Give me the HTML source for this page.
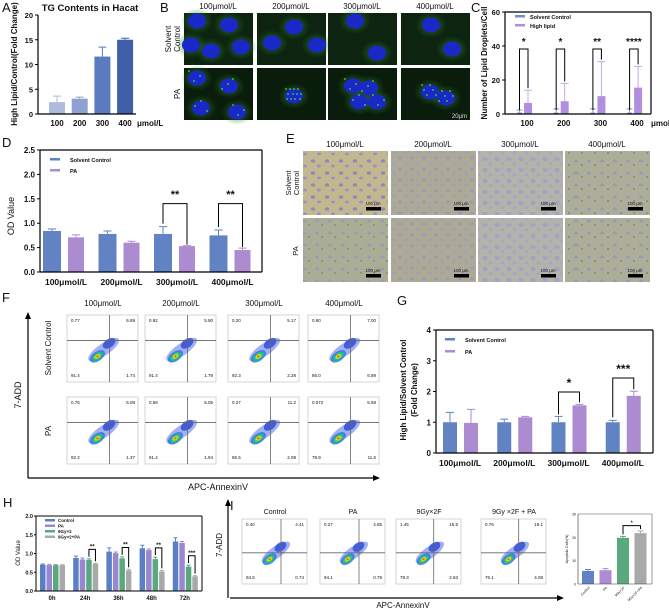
<!DOCTYPE html>
<html><head><meta charset="utf-8"><style>
html,body{margin:0;padding:0;background:#fff;}
svg{display:block;font-family:"Liberation Sans",Arial,sans-serif;}
</style></head><body>
<svg id="fig" width="669" height="610" viewBox="0 0 669 610" xmlns="http://www.w3.org/2000/svg">
<defs>
<pattern id="cellsA" width="14" height="12" patternUnits="userSpaceOnUse"><rect width="14" height="12" fill="#c3b78f"/><ellipse cx="5" cy="5" rx="2.2" ry="1.6" fill="#8d88bf"/><ellipse cx="11" cy="10" rx="2" ry="1.5" fill="#9893c0"/></pattern>
<pattern id="cellsB" width="12" height="11" patternUnits="userSpaceOnUse"><rect width="12" height="11" fill="#aca997"/><ellipse cx="4" cy="4" rx="2" ry="1.4" fill="#9c99b8"/><ellipse cx="10" cy="9" rx="1.8" ry="1.3" fill="#a29fb8"/></pattern>
<pattern id="cellsC" width="12" height="11" patternUnits="userSpaceOnUse"><rect width="12" height="11" fill="#b3b2ab"/><ellipse cx="5" cy="5" rx="2.6" ry="2" fill="#a4a2c4"/><ellipse cx="11" cy="10" rx="2.4" ry="1.8" fill="#a8a6c4"/></pattern>
<pattern id="cellsD" width="13" height="12" patternUnits="userSpaceOnUse"><rect width="13" height="12" fill="#acae9a"/><ellipse cx="4" cy="5" rx="2" ry="1.4" fill="#9a98b6"/><circle cx="10" cy="9" r="0.8" fill="#6a6a60"/></pattern>
<pattern id="cellsE" width="13" height="12" patternUnits="userSpaceOnUse"><rect width="13" height="12" fill="#a9ad95"/><ellipse cx="5" cy="5" rx="2" ry="1.4" fill="#9c9ab8"/><circle cx="10" cy="9" r="0.7" fill="#707068"/></pattern>
<radialGradient id="blob"><stop offset="0" stop-color="#e02020"/><stop offset="0.25" stop-color="#f0e020"/><stop offset="0.5" stop-color="#30c060"/><stop offset="0.75" stop-color="#20a0e0"/><stop offset="1" stop-color="#2040e0" stop-opacity="0.6"/></radialGradient>
<radialGradient id="glow"><stop offset="0" stop-color="#2a7a2a" stop-opacity="0.8"/><stop offset="1" stop-color="#2a7a2a" stop-opacity="0"/></radialGradient>
</defs>
</svg>
<script>
const NS='http://www.w3.org/2000/svg';
const root=document.getElementById('fig');
function el(tag,a,parent){const e=document.createElementNS(NS,tag);for(const k in a)e.setAttribute(k,a[k]);(parent||root).appendChild(e);return e;}
function txt(x,y,s,a,name){
  const t=el('text',Object.assign({x:x,y:y,'font-size':9,fill:'#111'},a||{}));
  t.textContent=s;
  
  
  return t;
}
function ln(x1,y1,x2,y2,w,c,name){
  const l=el('line',{x1:x1,y1:y1,x2:x2,y2:y2,stroke:c||'#000','stroke-width':w||1});
  
  
  return l;
}
function rect(x,y,w,h,fill,name){
  const r=el('rect',{x:x,y:y,width:w,height:h,fill:fill});
  
  
  return r;
}
function errbar(cx,yTop,yErr,w,c,name){
  const p=el('path',{d:`M${cx},${yTop}V${yErr}M${cx-w},${yErr}H${cx+w}`,stroke:c,'stroke-width':1,fill:'none'});
  
  
}
function bracket(x1,y1,x2,y2,top,stars,sy,fs,name){
  const p=el('path',{d:`M${x1},${y1}V${top}H${x2}V${y2}`,stroke:'#000','stroke-width':1,fill:'none'});
  
  
  txt((x1+x2)/2,sy,stars,{'text-anchor':'middle','font-size':fs,'font-weight':'bold'},name+'-stars');
}
function plabel(x,y,s){txt(x,y,s,{'font-size':13},'panel-label-'+s.toLowerCase());}

/* ===== DATA ===== */
const aCats=['100','200','300','400'];
const aVals=[2.4,3.1,11.6,15.0];
const aErr=[1.2,0.3,1.9,0.3];
const aTicks=[0,5,10,15,20];
const cCats=['100','200','300','400'];
const cCtrl=[0.8,0.8,0.8,0.8];
const cCtrlErr=[1.5,2.2,2.2,2.2];
const cPA=[6.5,7.5,10.5,15.5];
const cPAErr=[7.5,10.5,20.3,12.5];
const cTicks=[0,20,40,60];
const cSig=['*','*','**','****'];
const dCats=['100μmol/L','200μmol/L','300μmol/L','400μmol/L'];
const dCtrl=[0.84,0.78,0.78,0.75];
const dCtrlErr=[0.04,0.06,0.15,0.11];
const dPA=[0.71,0.60,0.53,0.45];
const dPAErr=[0.05,0.03,0.01,0.04];
const dTicks=[0,0.5,1,1.5,2,2.5];
const gCats=['100μmol/L','200μmol/L','300μmol/L','400μmol/L'];
const gCtrl=[1,1,1,1];
const gCtrlErr=[0.32,0.1,0.19,0.06];
const gPA=[0.98,1.16,1.55,1.86];
const gPAErr=[0.44,0.03,0.03,0.15];
const gTicks=[0,1,2,3,4];
const hCats=['0h','24h','36h','48h','72h'];
const hSeries=['Control','PA','9Gy×2','9Gy×2+PA'];
const hCtrl=[0.70,0.88,1.05,1.14,1.32];
const hPA=[0.69,0.84,1.01,1.09,1.28];
const hGy=[0.69,0.83,0.87,0.85,0.65];
const hGyPA=[0.69,0.72,0.55,0.52,0.39];
const hErr=[[0.02,0.05,0.1,0.08,0.1],[0.02,0.04,0.03,0.03,0.04],[0.01,0.03,0.04,0.05,0.04],[0.01,0.02,0.03,0.03,0.02]];
const hSig=['','**','**','**','***'];
const hTicks=[0,0.5,1,1.5,2];
const iCats=['Control','PA','9Gy×2F','9Gy×2F+PA'];
const iVals=[5.6,5.9,19.8,21.8];
const iErr=[0.6,0.7,0.6,0.9];
const iTicks=[0,10,20,30];
const fQuad=[[['0.77','6.89','91.4','1.74'],['0.92','5.90','91.4','1.79'],['0.20','5.17','92.3','2.28'],['0.90','7.00','86.0','6.89']],
             [['0.76','5.08','92.2','1.37'],['0.58','5.05','91.4','1.94'],['0.27','11.2','86.5','2.08'],['0.072','5.58','79.9','11.6']]];
const iQuad=[['0.40','4.41','94.5','0.74'],['0.27','4.85','94.1','0.79'],['1.45','16.5','79.3','2.63'],['0.76','19.1','76.1','4.08']];

const blue='#6182c3', purple='#ad8bd1';

/* ===== PANEL A ===== */
plabel(2,12,'A');
const yA=v=>114-v*99/20;
txt(90,11,'TG Contents in Hacat',{'font-size':9.5,'font-weight':'bold','text-anchor':'middle'},'chart-a-title');
const aCol=['#aebbdc','#8ea2d2','#5a7bc0','#3f5fa8'];
aVals.forEach((v,i)=>{
  const x=49+i*22.7;
  errbar(x+8,yA(v),yA(v+aErr[i]),4,aCol[i],'a-error-'+aCats[i]);
  rect(x,yA(v),16,114-yA(v),aCol[i],'a-bar-'+aCats[i]);
  txt(x+8,126,aCats[i],{'font-size':8,'font-weight':'bold','text-anchor':'middle'},'a-x-tick');
});
txt(137,126,'μmol/L',{'font-size':8,'font-weight':'bold'},'a-unit');
aTicks.forEach(t=>{ln(35,yA(t),38,yA(t),1,'#000','a-tick');txt(33,yA(t)+3,String(t),{'font-size':7.5,'font-weight':'bold','text-anchor':'end'},'a-y-tick');});
ln(38,15,38,114.5,1.2,'#000','a-y-axis');ln(38,114,136,114,1.2,'#000','a-x-axis');
txt(0,0,'High Lipid/Control(Fold Change)',{'font-size':8,'font-weight':'bold','text-anchor':'middle',transform:'translate(17,64) rotate(-90)'},'a-y-title');

/* ===== PANEL B ===== */
plabel(160,12,'B');
const bCols=[184,257,328,401], bRows=[13,68];
['100μmol/L','200μmol/L','300μmol/L','400μmol/L'].forEach((s,i)=>txt(bCols[i]+34,9,s,{'font-size':8,'text-anchor':'middle'},'b-col-header'));
txt(0,0,'Solvent',{'font-size':8,'text-anchor':'middle',transform:'translate(171,39) rotate(-90)'},'b-row-solvent');
txt(0,0,'Control',{'font-size':8,'text-anchor':'middle',transform:'translate(180,39) rotate(-90)'},'b-row-control');
txt(0,0,'PA',{'font-size':8,'text-anchor':'middle',transform:'translate(180,94) rotate(-90)'},'b-row-pa');
const nucB=[[[8,8],[40,12],[52,34],[22,38],[2,32]],[[32,14],[10,30],[55,32]],[[22,8],[44,40]],[[25,12],[46,36]]];
const nucB2=[[[8,10],[40,18],[12,40],[48,44]],[[32,28]],[[20,18],[36,20],[26,34],[44,34]],[[24,24],[40,30]]];
bRows.forEach((ry,r)=>bCols.forEach((cx,c)=>{
  rect(cx,ry,69,52,r===0?'#0d2410':'#0a1c0b','b-image');
  const ns=r===0?nucB[c]:nucB2[c];
  ns.forEach(n=>{const gl=el('ellipse',{cx:cx+n[0]+5,cy:ry+n[1],rx:16,ry:13,fill:'url(#glow)'});});
  ns.forEach(n=>{const e=el('ellipse',{cx:cx+n[0]+5,cy:ry+n[1],rx:9,ry:7.5,fill:'#1a28c8'});});
  if(r===1){for(let k=0;k<12;k++){const d=el('circle',{cx:cx+ns[k%ns.length][0]+5+((k*7)%17-8),cy:ry+ns[k%ns.length][1]+((k*5)%15-7),r:0.9,fill:'#40e040'});}}
}));
txt(467,118,'20μm',{'font-size':6,fill:'#ddd','text-anchor':'end'},'b-scale-label');

/* ===== PANEL C ===== */
plabel(471,12,'C');
const yC=v=>114-v*102/60;
ln(505,12,651,12,1.2,'#000','c-frame-top');ln(651,12,651,114,1.2,'#000','c-frame-right');
cPA.forEach((v,i)=>{
  const gc=523+i*36.7;
  errbar(gc-3.5,yC(cCtrl[i]),yC(cCtrl[i]+cCtrlErr[i]),3,'#7d9ad0','c-ctrl-error');
  rect(gc-6,yC(cCtrl[i]),5,114-yC(cCtrl[i]),'#6f8fcf','c-ctrl-bar-'+cCats[i]);
  errbar(gc+5,yC(v),yC(v+cPAErr[i]),4,'#c4a8e4','c-pa-error');
  rect(gc+1,yC(v),8,114-yC(v),'#b18ee0','c-pa-bar-'+cCats[i]);
  bracket(gc-3.5,110,gc+5,yC(v+cPAErr[i])-2>50?yC(v+cPAErr[i])-2:60,49,cSig[i],45,10,'c-sig-'+cCats[i]);
  txt(gc+4,126,cCats[i],{'font-size':8,'font-weight':'bold','text-anchor':'middle'},'c-x-tick');
});
txt(651,126,'μmol/L',{'font-size':8,'font-weight':'bold'},'c-unit');
cTicks.forEach(t=>{ln(502,yC(t),505,yC(t),1,'#000','c-tick');txt(500,yC(t)+3,String(t),{'font-size':7.5,'font-weight':'bold','text-anchor':'end'},'c-y-tick');});
ln(505,12,505,114.5,1.2,'#000','c-y-axis');ln(505,114,651,114,1.2,'#000','c-x-axis');
txt(0,0,'Number of Lipid Droplets/Cell',{'font-size':8,'font-weight':'bold','text-anchor':'middle',transform:'translate(487,63) rotate(-90)'},'c-y-title');
rect(515,15,10,2.5,'#6f8fcf','c-legend-ctrl-swatch');txt(530,19,'Solvent Control',{'font-size':5.5,'font-weight':'bold'},'c-legend-ctrl');
rect(515,24,10,2.5,'#b18ee0','c-legend-pa-swatch');txt(530,28,'High lipid',{'font-size':5.5,'font-weight':'bold'},'c-legend-pa');

/* ===== PANEL D ===== */
plabel(2,147,'D');
const yD=v=>272-v*48.8;
ln(40,150,262,150,1.2,'#000','d-frame-top');ln(262,150,262,272,1.2,'#000','d-frame-right');
dCtrl.forEach((v,i)=>{
  const x0=43+i*55.5;
  errbar(x0+9,yD(v),yD(v+dCtrlErr[i]),4,blue,'d-ctrl-error');
  rect(x0,yD(v),18,272-yD(v),blue,'d-ctrl-bar-'+i);
  const p=dPA[i];
  errbar(x0+33,yD(p),yD(p+dPAErr[i]),4,purple,'d-pa-error');
  rect(x0+25,yD(p),16,272-yD(p),purple,'d-pa-bar-'+i);
  txt(x0+23,285,dCats[i],{'font-size':8.5,'font-weight':'bold','text-anchor':'middle'},'d-x-tick');
  if(i>=2)bracket(x0+9,yD(v+dCtrlErr[i])-3,x0+33,yD(p+dPAErr[i])-1,yD(1.4),'**',yD(1.52),11,'d-sig-'+i);
});
dTicks.forEach(t=>{ln(37,yD(t),40,yD(t),1,'#000','d-tick');txt(35,yD(t)+3,t.toFixed(1),{'font-size':8,'font-weight':'bold','text-anchor':'end'},'d-y-tick');});
ln(40,150,40,272.5,1.2,'#000','d-y-axis');ln(40,272,262,272,1.2,'#000','d-x-axis');
txt(0,0,'OD Value',{'font-size':9,'text-anchor':'middle',transform:'translate(14,216) rotate(-90)'},'d-y-title');
rect(50,158,10,2.5,blue,'d-legend-ctrl-swatch');txt(70,162,'Solvent Control',{'font-size':5.5,'font-weight':'bold'},'d-legend-ctrl');
rect(50,169,10,2.5,purple,'d-legend-pa-swatch');txt(70,173,'PA',{'font-size':5.5,'font-weight':'bold'},'d-legend-pa');

/* ===== PANEL E ===== */
plabel(286,143,'E');
const eCols=[303,391,478,565], eRows=[151,218];
['100μmol/L','200μmol/L','300μmol/L','400μmol/L'].forEach((s,i)=>txt(eCols[i]+42,147,s,{'font-size':8,'text-anchor':'middle'},'e-col-header'));
txt(0,0,'Solvent',{'font-size':7.5,'text-anchor':'middle',transform:'translate(291,183) rotate(-90)'},'e-row-solvent');
txt(0,0,'Control',{'font-size':7.5,'text-anchor':'middle',transform:'translate(299,183) rotate(-90)'},'e-row-control');
txt(0,0,'PA',{'font-size':7.5,'text-anchor':'middle',transform:'translate(298,251) rotate(-90)'},'e-row-pa');
const ePat=[['cellsA','cellsB','cellsC','cellsD'],['cellsE','cellsB','cellsC','cellsD']];
eRows.forEach((ry,r)=>eCols.forEach((cx,c)=>{
  rect(cx,ry,85,64,'url(#'+ePat[r][c]+')','e-image');
  rect(cx+63,ry+56,15,3.5,'#000','e-scale-bar');
  txt(cx+70,ry+54,'100 μm',{'font-size':4.5,'text-anchor':'middle'},'e-scale-label');
}));

/* ===== FLOW helper ===== */
function flow(x,y,w,h,q,vx,hy,name){
  rect(x,y,w,h,'#fff','flow-plot-bg');
  const b=el('rect',{x:x,y:y,width:w,height:h,fill:'none',stroke:'#ccc','stroke-width':0.8});
  
  
  const g=el('g',{transform:`translate(${x+w*0.47},${y+h*0.55}) rotate(-35)`});
  
  
  el('ellipse',{cx:4,cy:0,rx:w*0.26,ry:h*0.09,fill:'#3050e0','fill-opacity':0.45},g);
  el('ellipse',{cx:w*0.17,cy:-2,rx:w*0.1,ry:h*0.065,fill:'#2040d8','fill-opacity':0.75},g);
  el('ellipse',{cx:-5,cy:2,rx:w*0.12,ry:h*0.07,fill:'url(#blob)'},g);
  ln(x+w*vx,y,x+w*vx,y+h,0.8,'#666',name+'-vline');
  ln(x,y+h*hy,x+w,y+h*hy,0.8,'#666',name+'-hline');
  const fs=4.5;
  txt(x+4,y+7,q[0],{'font-size':fs},name+'-q1');
  txt(x+w-3,y+7,q[1],{'font-size':fs,'text-anchor':'end'},name+'-q2');
  txt(x+4,y+h-5,q[2],{'font-size':fs},name+'-q3');
  txt(x+w-3,y+h-5,q[3],{'font-size':fs,'text-anchor':'end'},name+'-q4');
}

/* ===== PANEL F ===== */
plabel(2,302,'F');
const fCols=[67,145,228,308], fRows=[315,397];
['100μmol/L','200μmol/L','300μmol/L','400μmol/L'].forEach((s,i)=>txt(fCols[i]+36,306,s,{'font-size':8,'text-anchor':'middle'},'f-col-header'));
fRows.forEach((ry,r)=>fCols.forEach((cx,c)=>flow(cx,ry,71,67,fQuad[r][c],0.6,0.38,'f-flow-'+r+'-'+c)));
txt(0,0,'Solvent Control',{'font-size':8,'text-anchor':'middle',transform:'translate(51,348) rotate(-90)'},'f-row-solvent');
txt(0,0,'PA',{'font-size':8,'text-anchor':'middle',transform:'translate(51,431) rotate(-90)'},'f-row-pa');
ln(28,478,375,478,1.2,'#000','f-x-arrow');el('path',{d:'M380,478 l-7,-3 v6z',fill:'#000'});
ln(28,478,28,318,1.2,'#000','f-y-arrow');el('path',{d:'M28,312 l-3,7 h6z',fill:'#000'});
txt(218,490,'APC-AnnexinV',{'font-size':9,'text-anchor':'middle'},'f-x-title');
txt(0,0,'7-ADD',{'font-size':9,'text-anchor':'middle',transform:'translate(21,395) rotate(-90)'},'f-y-title');

/* ===== PANEL G ===== */
plabel(397,305,'G');
const yG=v=>453-v*30.75;
ln(436,330,653,330,1.2,'#000','g-frame-top');ln(653,330,653,453,1.2,'#000','g-frame-right');
gCtrl.forEach((v,i)=>{
  const x0=443+i*54.25;
  errbar(x0+7,yG(v),yG(v+gCtrlErr[i]),4,blue,'g-ctrl-error');
  rect(x0,yG(v),14,453-yG(v),blue,'g-ctrl-bar-'+i);
  const p=gPA[i];
  errbar(x0+28,yG(p),yG(p+gPAErr[i]),4,purple,'g-pa-error');
  rect(x0+21,yG(p),14,453-yG(p),purple,'g-pa-bar-'+i);
  txt(x0+17,466,gCats[i],{'font-size':8.5,'font-weight':'bold','text-anchor':'middle'},'g-x-tick');
});
bracket(443+2*54.25+7,yG(gCtrl[2]+gCtrlErr[2])-2,443+2*54.25+28,yG(gPA[2]+gPAErr[2])-2,392,'*',387,12,'g-sig-300');
bracket(443+3*54.25+7,yG(gCtrl[3]+gCtrlErr[3])-3,443+3*54.25+28,yG(gPA[3]+gPAErr[3])-2,378,'***',373,12,'g-sig-400');
gTicks.forEach(t=>{ln(433,yG(t),436,yG(t),1,'#000','g-tick');txt(431,yG(t)+3,String(t),{'font-size':8,'font-weight':'bold','text-anchor':'end'},'g-y-tick');});
ln(436,330,436,453.5,1.2,'#000','g-y-axis');ln(436,453,653,453,1.2,'#000','g-x-axis');
txt(0,0,'High Lipid/Solvent Control',{'font-size':8,'font-weight':'bold','text-anchor':'middle',transform:'translate(406,390) rotate(-90)'},'g-y-title');
txt(0,0,'(Fold Change)',{'font-size':8,'font-weight':'bold','text-anchor':'middle',transform:'translate(417,390) rotate(-90)'},'g-y-title-2');
rect(445,338,10,2.5,blue,'g-legend-ctrl-swatch');txt(465,342,'Solvent Control',{'font-size':5.5,'font-weight':'bold'},'g-legend-ctrl');
rect(445,350,10,2.5,purple,'g-legend-pa-swatch');txt(465,354,'PA',{'font-size':5.5,'font-weight':'bold'},'g-legend-pa');

/* ===== PANEL H ===== */
plabel(3,507,'H');
const yH=v=>591-v*37.5;
const hCol=['#5b7fc5','#9b86d0','#5aa880','#a9a9a9'];
const hAll=[hCtrl,hPA,hGy,hGyPA];
ln(36,516,202,516,1,'#000','h-frame-top');ln(202,516,202,591,1,'#000','h-frame-right');
hCats.forEach((c,i)=>{
  const g0=36+i*33.2+4;
  hAll.forEach((s,j)=>{
    const x=g0+j*6.5;
    errbar(x+2.75,yH(s[i]),yH(s[i]+hErr[j][i]),2,hCol[j],'h-error');
    rect(x,yH(s[i]),5.5,591-yH(s[i]),hCol[j],'h-bar-'+c+'-'+j);
  });
  if(hSig[i])bracket(g0+2*6.5+2.75,yH(hGy[i]+hErr[2][i])-2,g0+3*6.5+2.75,yH(hGyPA[i]+hErr[3][i])-2,yH(hGy[i]+hErr[2][i]+0.25),hSig[i],yH(hGy[i]+hErr[2][i]+0.25)-1,6,'h-sig-'+c);
  txt(g0+12,600,c,{'font-size':6,'font-weight':'bold','text-anchor':'middle'},'h-x-tick');
});
hTicks.forEach(t=>{ln(34,yH(t),36,yH(t),1,'#000','h-tick');txt(33,yH(t)+2,t.toFixed(1),{'font-size':5.5,'font-weight':'bold','text-anchor':'end'},'h-y-tick');});
ln(36,516,36,591.5,1,'#000','h-y-axis');ln(36,591,202,591,1,'#000','h-x-axis');
txt(0,0,'OD Value',{'font-size':6,'text-anchor':'middle',transform:'translate(20,553) rotate(-90)'},'h-y-title');
hSeries.forEach((s,j)=>{rect(45,519+j*5.5,10,2.5,hCol[j],'h-legend-swatch');txt(58,522+j*5.5,s,{'font-size':4.5,'font-weight':'bold'},'h-legend-'+j);});

/* ===== PANEL I ===== */
txt(230,510,'I',{'font-size':13},'panel-label-i');
const iCols=[242,320,396,481];
['Control','PA','9Gy×2F','9Gy ×2F + PA'].forEach((s,i)=>txt(iCols[i]+33,514,s,{'font-size':7,'text-anchor':'middle'},'i-col-header'));
iCols.forEach((cx,c)=>flow(cx,519,65,65,iQuad[c],c<2?0.6:0.58,0.52,'i-flow-'+c));
ln(230,598,557,598,1.2,'#000','i-x-arrow');el('path',{d:'M564,598 l-7,-3 v6z',fill:'#000'});
ln(228,598,228,505,1.2,'#000','i-y-arrow');el('path',{d:'M228,499 l-3,7 h6z',fill:'#000'});
txt(403,608,'APC-AnnexinV',{'font-size':8,'text-anchor':'middle'},'i-x-title');
txt(0,0,'7-ADD',{'font-size':8,'text-anchor':'middle',transform:'translate(222,545) rotate(-90)'},'i-y-title');
const yI=v=>584-v*70/30;
const iCol=['#6182c3','#ad8bd1','#5aa880','#a9a9a9'];
ln(578,514,652,514,0.6,'#555','i-frame-top');ln(652,514,652,584,0.6,'#555','i-frame-right');
iVals.forEach((v,i)=>{
  const x=582+i*17.5;
  errbar(x+6,yI(v),yI(v+iErr[i]),3,iCol[i],'i-error');
  rect(x,yI(v),12,584-yI(v),iCol[i],'i-bar-'+i);
  txt(0,0,iCats[i],{'font-size':3.5,'text-anchor':'end',transform:`translate(${x+8},588) rotate(-45)`},'i-x-tick');
});
bracket(582+2*17.5+6,yI(iVals[2]+iErr[2])-2,582+3*17.5+6,yI(iVals[3]+iErr[3])-2,yI(25),'*',yI(25.5),5,'i-sig');
iTicks.forEach(t=>{txt(576,yI(t)+1.5,String(t),{'font-size':3.5,'text-anchor':'end'},'i-y-tick');});
ln(578,514,578,584,0.6,'#333','i-y-axis');ln(578,584,652,584,0.6,'#333','i-x-axis');
txt(0,0,'Apoptotic Cells(%)',{'font-size':3.5,'text-anchor':'middle',transform:'translate(568,549) rotate(-90)'},'i-bar-y-title');
</script>
</body></html>
